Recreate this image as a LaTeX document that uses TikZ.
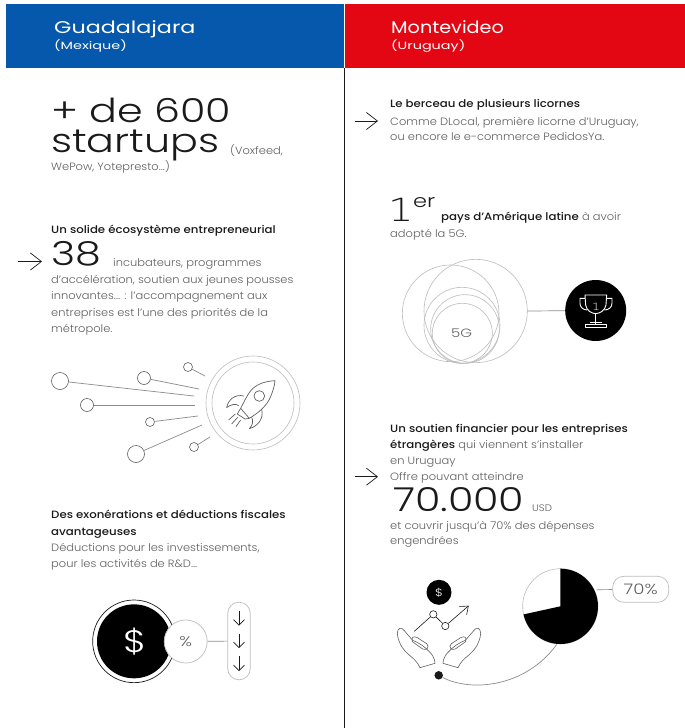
\documentclass[tikz,border=0pt]{standalone}
\usepackage{fontspec}
\setmainfont[FakeStretch=1.08]{Poppins Light}
\newfontfamily\widefnt[FakeStretch=1.25]{Poppins Light}
\newfontfamily\medfnt[FakeStretch=1.11]{Poppins Medium}
\newfontfamily\cityfnt[FakeStretch=1.31]{Poppins}
\newfontfamily\cityfntb[FakeStretch=1.13]{Poppins}
\newfontfamily\subfnt[FakeStretch=1.37]{Poppins}
\newfontfamily\footfnt[FakeStretch=1.25]{DejaVu Sans ExtraLight}
\usetikzlibrary{arrows.meta}
\definecolor{ink}{HTML}{1A1A1A}
\definecolor{soft}{HTML}{606060}
\definecolor{hair}{HTML}{8C8C8C}
\definecolor{ring}{HTML}{BDBDBD}
\definecolor{bleu}{HTML}{0558AB}
\definecolor{rouge}{HTML}{E30613}
\tikzset{
 x=1pt,y=-1pt,
 txt/.style={anchor=base west,inner sep=0pt,text=soft,font=\fontsize{10.6}{12}\selectfont},
 boldtxt/.style={txt,text=ink,font=\medfnt\fontsize{10.6}{12}\selectfont},
 bigtxt/.style={anchor=base west,inner sep=0pt,text=ink,font=\widefnt\fontsize{33}{36}\selectfont},
 city/.style={anchor=base west,inner sep=0pt,text=white,font=\cityfnt\fontsize{17}{20}\selectfont},
 citywest/.style={city,font=\cityfntb\fontsize{17}{20}\selectfont},
 subcity/.style={anchor=base west,inner sep=0pt,text=white,font=\subfnt\fontsize{10.5}{12}\selectfont},
 dot/.style={circle,draw=soft,line width=.6pt,inner sep=0pt,fill=white},
 ray/.style={draw=hair,line width=.7pt},
 ringline/.style={draw=ring,line width=.6pt},
 pointer/.style={draw=ink,line width=.7pt,-{Straight Barb[length=11pt,width=17pt]}},
 small arrow/.style={draw=ink,line width=.6pt,-{Straight Barb[length=5.5pt,width=11pt]}},
 zoomed/.style={x=.3333pt,y=-.3333pt},
}
\begin{document}
\begin{tikzpicture}
\useasboundingbox (0,0) rectangle (685,728);
\fill[white] (0,0) rectangle (685,728);
\fill[bleu] (6,3.5) rectangle (344,68);
\fill[rouge] (345,3.5) rectangle (685,68);
\draw[draw=ink,line width=.6pt] (344.5,68) -- (344.5,728);

% headers
\node[city] (g) at (54,33.5) {Guadalajara};
\node[subcity] (gs) at (54,49.5) {(Mexique)};
\node[citywest] (m) at (391,33.5) {Montevideo};
\node[subcity] (ms) at (391,49.5) {(Uruguay)};

% left column text
\node[bigtxt] (a1) at (51,122.5) {+ de 600};
\node[bigtxt] (a2) at (51,152.5) {startups};
\node[txt] (a3) at (230,154) {(Voxfeed,};
\node[txt] (a4) at (51,170.5) {WePow, Yotepresto...)};
\node[boldtxt] (b1) at (51,233.5) {Un solide écosystème entrepreneurial};
\node[bigtxt] (b2) at (51,265) {38};
\node[txt] (b3) at (113,266.5) {incubateurs, programmes};
\node[txt] (b4) at (51,283.5) {d’accélération, soutien aux jeunes pousses};
\node[txt] (b5) at (51,299.5) {innovantes... : l’accompagnement aux};
\node[txt] (b6) at (51,316) {entreprises est l’une des priorités de la};
\node[txt] (b7) at (51,332) {métropole.};
\coordinate (p1a) at (18,261.5); \coordinate (p1b) at (42,261.5);
\draw[pointer] (p1a) -- (p1b);
\node[boldtxt] (d1) at (51,518) {Des exonérations et déductions fiscales};
\node[boldtxt] (d2) at (51,535) {avantageuses};
\node[txt] (d3) at (51,551) {Déductions pour les investissements,};
\node[txt] (d4) at (51,567) {pour les activités de R\&D...};

% rocket graphic
\node[circle,ringline,minimum size=94pt,inner sep=0pt] (r1) at (253,403) {};
\node[circle,ringline,minimum size=82pt,inner sep=0pt] (r2) at (253,403) {};
\node[dot,minimum size=17pt] (c1) at (60,381) {};
\node[dot,minimum size=13pt] (c2) at (144,378) {};
\node[dot,minimum size=9pt] (c3) at (188,367) {};
\node[dot,minimum size=13pt] (c4) at (87,405) {};
\node[dot,minimum size=9pt] (c5) at (150,422) {};
\node[dot,minimum size=9pt] (c6) at (194,447) {};
\node[dot,minimum size=17pt] (c7) at (136,454) {};
\coordinate (e1) at (194,396); \coordinate (e2) at (199,389);
\coordinate (e3) at (205,376); \coordinate (e4) at (195,405);
\coordinate (e5) at (198,416); \coordinate (e6) at (210,437);
\coordinate (e7) at (202,425);
\foreach \n in {1,...,7} \draw[ray] (c\n) -- (e\n);
\begin{scope}[zoomed,shift={(0pt,-340pt)},draw=soft,line width=.7pt,line join=round]
 \draw (825,122) .. controls (790,124) and (765,135) .. (750,155) .. controls (738,172) and (730,190) .. (722,205) -- (748,235) .. controls (770,222) and (800,200) .. (812,170) .. controls (820,150) and (824,135) .. (825,122) -- cycle;
 \draw (778,168) circle[radius=16];
 \draw (722,205) -- (712,222) -- (735,237) -- (748,235);
 \draw (732,168) .. controls (705,162) and (685,178) .. (680,203) .. controls (692,193) and (708,190) .. (716,197);
 \draw (785,208) .. controls (792,235) and (775,258) .. (748,266) .. controls (760,255) and (760,240) .. (755,232);
 \draw (706,222) -- (686,240) (713,232) -- (695,252) (722,240) -- (708,260);
\end{scope}

% percent graphic
\begin{scope}[zoomed,shift={(60pt,-580pt)}]
 \draw[draw=ink,line width=.7pt,fill=white] (222,184) circle[radius=124];
 \fill[black] (222,184) circle[radius=111];
\end{scope}
\node[inner sep=0pt,text=white,font=\widefnt\fontsize{31}{31}\selectfont] (dol) at (135.5,641.5) {\$};
\node[circle,draw=ring,line width=.7pt,fill=white,minimum size=43pt,inner sep=0pt,text=soft,font=\widefnt\fontsize{14}{14}\selectfont] (pc) at (185.7,641.5) {\%};
\node[draw=ring,line width=.7pt,rounded corners=11pt,minimum width=22.5pt,minimum height=77.5pt,inner sep=0pt] (lst) at (239,641) {};
\draw[ray] (pc) -- (lst);
\coordinate (l1a) at (239,611); \coordinate (l1b) at (239,625.5);
\coordinate (l2a) at (239,634); \coordinate (l2b) at (239,648);
\coordinate (l3a) at (239,656); \coordinate (l3b) at (239,671);
\draw[small arrow] (l1a) -- (l1b);
\draw[small arrow] (l2a) -- (l2b);
\draw[small arrow] (l3a) -- (l3b);

% right column text
\node[boldtxt] (e1t) at (390,107.7) {Le berceau de plusieurs licornes};
\node[txt] (e2t) at (390,125) {Comme DLocal, première licorne d’Uruguay,};
\node[txt] (e3t) at (390,140.7) {ou encore le e-commerce PedidosYa.};
\coordinate (p2a) at (355,121); \coordinate (p2b) at (378,121);
\draw[pointer] (p2a) -- (p2b);
\node[anchor=base west,inner sep=0pt,text=ink,font=\footfnt\fontsize{32}{34}\selectfont] (f1) at (388,221.7) {1};
\node[anchor=base west,inner sep=0pt,text=ink,font=\widefnt\fontsize{18}{18}\selectfont] (f2) at (413,207) {er};
\node[txt] (f3) at (441,220.7) {{\medfnt\color{ink}pays d’Amérique latine} à avoir};
\node[txt] (f4) at (390,237) {adopté la 5G.};
\node[boldtxt] (h1) at (390,432) {Un soutien financier pour les entreprises};
\node[txt] (h2) at (390,448) {{\medfnt\color{ink}étrangères} qui viennent s’installer};
\node[txt] (h3) at (390,464) {en Uruguay};
\node[txt] (h4) at (390,480) {Offre pouvant atteindre};
\node[bigtxt] (h5) at (393,511.7) {70.000};
\node[txt,font=\fontsize{9.5}{11}\selectfont] (h6) at (532,511.7) {USD};
\node[txt] (h7) at (390,529) {et couvrir jusqu’à 70\% des dépenses};
\node[txt] (h8) at (390,544.5) {engendrées};
\coordinate (p3a) at (355,476.7); \coordinate (p3b) at (378,476.7);
\draw[pointer] (p3a) -- (p3b);

% 5G graphic
\begin{scope}[zoomed,shift={(380pt,-250pt)},draw=ring,line width=.6pt]
 \draw (287,183) circle[radius=155];
 \draw (212,190) circle[radius=145];
 \draw (246,226) circle[radius=114];
 \draw (255,237) circle[radius=103];
 \draw (247,250) circle[radius=90];
\end{scope}
\node[inner sep=0pt,text=soft,font=\widefnt\fontsize{12}{13}\selectfont] (fiveg) at (461.5,333.5) {5G};
\node[circle,fill=black,minimum size=61pt,inner sep=0pt] (tr) at (595.7,310.5) {};
\coordinate (s5) at (527.3,311);
\draw[ray] (s5) -- (tr);
\begin{scope}[zoomed,shift={(380pt,-250pt)},draw=white,line width=.9pt,line join=round]
 \draw (615,135) -- (680,135) -- (678,165) .. controls (675,182) and (660,190) .. (647,191) .. controls (634,190) and (620,182) .. (617,165) -- cycle;
 \draw (615,145) -- (600,145) -- (600,160) .. controls (600,172) and (610,180) .. (622,180);
 \draw (680,145) -- (696,145) -- (696,160) .. controls (696,172) and (686,180) .. (673,180);
 \draw (647,191) -- (647,222);
 \draw (630,218) -- (665,218);
 \draw (615,224) rectangle (680,232);
\end{scope}
\node[inner sep=0pt,text=white,font=\footfnt\fontsize{10}{10}\selectfont] (one) at (596,306.5) {1};

% pie graphic
\begin{scope}[zoomed,shift={(380pt,-565pt)}]
 \draw[draw=ring,line width=.6pt,fill=white] (541,124) circle[radius=113];
 \fill[black] (541,124) -- (541,11) arc[start angle=-90,end angle=167.6,radius=113] -- cycle;
 \draw[draw=soft,line width=.6pt,line join=round]
   (52,205) .. controls (52,190) and (64,184) .. (72,196) -- (98,226) .. controls (115,232) and (135,245) .. (150,262) .. controls (160,272) and (165,285) .. (165,295) -- (120,308) .. controls (112,290) and (100,280) .. (85,268) .. controls (65,250) and (54,230) .. (52,205) -- cycle;
 \draw[draw=soft,line width=.6pt,line join=round]
   (97,230) .. controls (92,216) and (102,212) .. (112,218) -- (140,236) .. controls (150,245) and (140,258) .. (128,252) -- cycle;
 \draw[draw=soft,line width=.6pt,line join=round]
   (302,205) .. controls (302,190) and (290,184) .. (282,196) -- (256,226) .. controls (239,232) and (219,245) .. (204,262) .. controls (194,272) and (189,285) .. (189,295) -- (234,308) .. controls (242,290) and (254,280) .. (269,268) .. controls (289,250) and (300,230) .. (302,205) -- cycle;
 \draw[draw=soft,line width=.6pt,line join=round]
   (257,230) .. controls (262,216) and (252,212) .. (242,218) -- (214,236) .. controls (204,245) and (214,258) .. (226,252) -- cycle;
\end{scope}
\node[circle,fill=black,minimum size=25pt,inner sep=0pt,text=white,font=\widefnt\fontsize{10.5}{11}\selectfont] (du) at (439,592.3) {\$};
\node[circle,fill=ink,minimum size=8.5pt,inner sep=0pt] (pt) at (438.7,675.3) {};
\coordinate (pieb) at (556.7,644.5);
\draw[ray] (pt) .. controls (470,692) and (525,688) .. (pieb);
\node[draw=ring,line width=.7pt,rounded corners=11pt,minimum width=56pt,minimum height=26pt,inner sep=0pt,text=soft,font=\widefnt\fontsize{14.5}{15}\selectfont] (pct) at (640.7,589.3) {70\%};
\coordinate (pier) at (596.7,589.7);
\draw[ray] (pier) -- (pct);
\node[dot,minimum size=7.3pt,draw=ink] (ch1) at (433.3,614.3) {};
\node[dot,minimum size=7.3pt,draw=ink] (ch2) at (445.3,626) {};
\coordinate (ch0) at (414.3,631.3); \coordinate (ch3) at (468.7,605.7);
\draw[draw=ink,line width=.6pt] (ch0) -- (ch1) -- (ch2);
\draw[small arrow,-{Straight Barb[length=7pt,width=11pt]}] (ch2) -- (ch3);
\end{tikzpicture}
\end{document}
